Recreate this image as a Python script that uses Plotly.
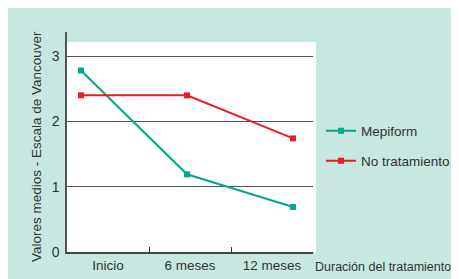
import plotly.graph_objects as go

categories = ["Inicio", "6 meses", "12 meses"]
months = [0, 6, 12]
mepiform = [2.78, 1.19, 0.69]
no_tratamiento = [2.40, 2.40, 1.74]
y_ticks = [0, 1, 2, 3]

TEAL = "#c8e7e0"
FONT = "Liberation Sans, Arial, sans-serif"
TXT = "#333333"

# plot area in figure pixels (page is offset by the 8px body margin)
L, R, T, B = 59, 305, 24, 244
PW, PH = R - L, B - T


def px(x):
    return (x - 8 - L) / PW


def py(y):
    return (B - (y - 8)) / PH


fig = go.Figure()

fig.add_trace(go.Scatter(
    x=months, y=mepiform, name="Mepiform", mode="lines+markers",
    line=dict(color="#00a88e", width=2), marker=dict(symbol="square", size=6, color="#00a88e"),
    legend="legend"))
fig.add_trace(go.Scatter(
    x=months, y=no_tratamiento, name="No tratamiento", mode="lines+markers",
    line=dict(color="#ec1c24", width=2), marker=dict(symbol="square", size=6, color="#ec1c24"),
    legend="legend2"))
# invisible trace registering the categorical axis
fig.add_trace(go.Scatter(
    x=categories, y=[None] * len(categories), xaxis="x2", mode="lines",
    showlegend=False, hoverinfo="skip"))

fig.update_layout(
    width=459, height=279,
    margin=dict(l=L, r=459 - R, t=T, b=279 - B, autoexpand=False),
    paper_bgcolor=TEAL, plot_bgcolor=TEAL,
    font=dict(family=FONT, size=13, color=TXT),
    xaxis=dict(range=[-0.79, 13.13], visible=False, fixedrange=True, automargin=False),
    xaxis2=dict(type="category", categoryorder="array", categoryarray=categories,
                range=[-0.5, 2.5], overlaying="x", anchor="y", side="bottom",
                tickson="boundaries", ticks="inside", ticklen=5, tickcolor="#333",
                showline=True, linecolor="#444", linewidth=1.5, showgrid=False,
                automargin=False, tickfont=dict(size=13.5, color=TXT)),
    yaxis=dict(range=[0, 3.37], tickvals=y_ticks, showline=True, linecolor="#555",
               linewidth=1.5, showgrid=True, gridcolor="#555", gridwidth=1,
               zeroline=False, ticks="outside", ticklen=3, tickcolor="rgba(0,0,0,0)",
               automargin=False, tickfont=dict(size=14, color=TXT)),
    legend=dict(x=px(321), y=py(131), xanchor="left", yanchor="middle",
                bgcolor="rgba(0,0,0,0)", font=dict(size=13.5, color=TXT)),
    legend2=dict(x=px(321), y=py(161), xanchor="left", yanchor="middle",
                 bgcolor="rgba(0,0,0,0)", font=dict(size=13.5, color=TXT)),
    showlegend=True,
)

# white plotting panel
fig.add_shape(type="rect", xref="paper", yref="paper", x0=0, x1=px(316), y0=0, y1=py(42),
              fillcolor="white", line_width=0, layer="below")

fig.add_annotation(text="Valores medios - Escala de Vancouver", textangle=-90,
                   xref="paper", yref="paper", x=px(36), y=py(147),
                   xanchor="center", yanchor="middle",
                   showarrow=False, font=dict(size=13.5, color=TXT))
fig.add_annotation(text="Duración del tratamiento", xref="paper", yref="paper",
                   x=px(313), y=py(267), xanchor="left", yanchor="middle",
                   showarrow=False, font=dict(size=12.5, color=TXT))

fig.write_html("out.html")
